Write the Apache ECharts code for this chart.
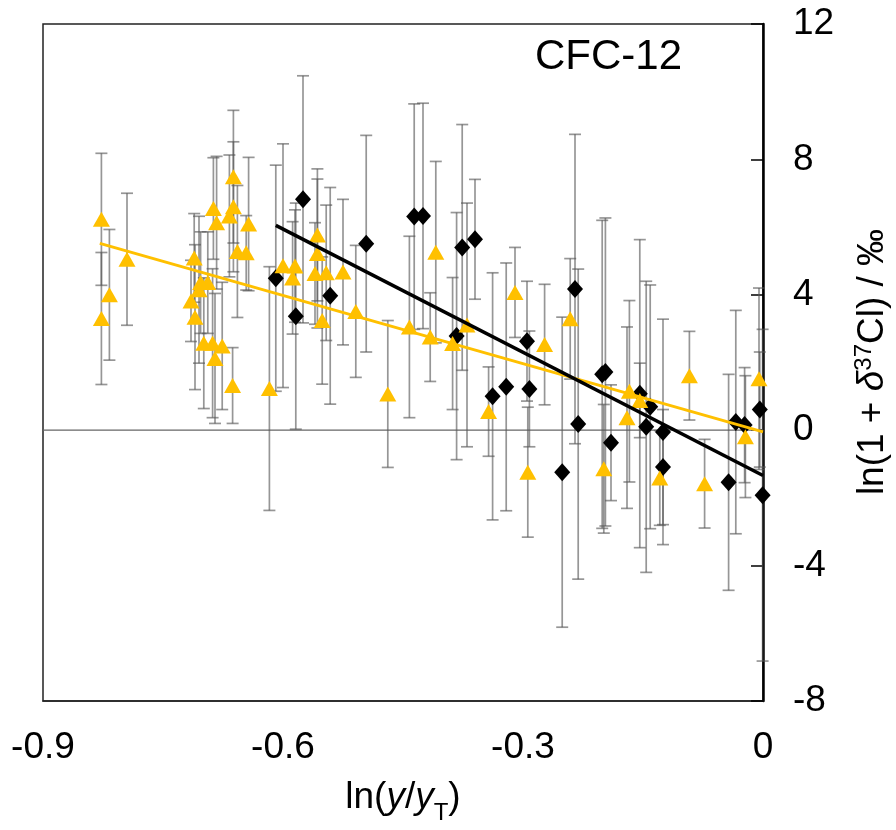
<!DOCTYPE html>
<html>
<head>
<meta charset="utf-8">
<script src="https://cdn.jsdelivr.net/npm/echarts@6/dist/echarts.min.js"></script>
<style>html,body{margin:0;padding:0;background:#fff;overflow:hidden;}#chart{position:absolute;left:0;top:0;width:896px;height:830px;}</style>
</head>
<body>
<div id="chart"></div>
<script>
// ---- data ----
const xTicks = [-0.9, -0.6, -0.3, 0];
const yTicks = [-8, -4, 0, 4, 8, 12];
const orangeX = [-0.827,-0.827,-0.817,-0.795,-0.715,-0.711,-0.710,-0.705,-0.703,-0.699,-0.694,-0.688,-0.687,-0.685,-0.683,-0.676,-0.667,-0.663,-0.662,-0.662,-0.657,-0.646,-0.643,-0.617,-0.600,-0.588,-0.585,-0.560,-0.557,-0.557,-0.551,-0.546,-0.525,-0.509,-0.469,-0.442,-0.416,-0.409,-0.388,-0.370,-0.343,-0.310,-0.294,-0.273,-0.241,-0.199,-0.170,-0.167,-0.154,-0.129,-0.092,-0.073,-0.022,-0.005];
const orangeY = [6.23,3.30,4.00,5.05,3.82,5.09,3.34,4.15,4.36,2.57,4.36,2.57,6.55,2.12,6.13,2.49,6.33,1.32,7.49,6.60,5.28,5.24,6.09,1.23,4.86,4.50,4.85,4.63,5.22,5.77,3.24,4.65,4.67,3.51,1.07,3.05,2.75,5.26,2.56,3.11,0.55,4.07,-1.24,2.53,3.29,-1.14,0.37,1.15,0.88,-1.41,1.61,-1.58,-0.19,1.52];
const orangeErr = [1.95,1.95,1.93,1.95,1.2,1.31,2.14,2.17,1.5,1.93,1.5,2.2,1.5,1.92,1.96,1.88,1.8,1.12,1.96,1.92,1.95,1.1,1.97,3.6,3.6,1.66,1.66,1.5,2.2,1.95,1.88,2.0,2.15,1.95,2.17,2.68,1.31,2.68,1.95,3.6,1.32,1.33,1.92,1.78,1.78,1.9,2.68,2.68,1.1,1.4,1.31,1.31,1.8,2.68];
const blackX = [-0.609,-0.584,-0.575,-0.541,-0.496,-0.436,-0.425,-0.383,-0.376,-0.360,-0.338,-0.321,-0.295,-0.292,-0.251,-0.235,-0.231,-0.201,-0.197,-0.190,-0.154,-0.146,-0.141,-0.125,-0.125,-0.043,-0.034,-0.023,-0.004,-0.0005];
const blackY = [4.49,3.37,6.82,3.97,5.51,6.31,6.33,2.78,5.40,5.64,1.00,1.28,2.63,1.22,-1.24,4.17,0.18,1.65,1.72,-0.37,1.08,0.10,0.69,-0.05,-1.09,-1.54,0.24,0.15,0.61,-1.92];
const blackErr = [3.34,3.34,3.65,3.2,3.2,3.33,3.33,3.65,3.63,1.77,3.65,3.66,1.77,1.71,4.58,4.57,4.58,4.55,4.55,1.71,4.55,4.3,3.6,3.33,1.7,3.19,3.3,1.7,1.7,4.9];
const blackFitX = [-0.609, 0];
const blackFitY = [6.05, -1.34];
const orangeFitX = [-0.829, 0];
const orangeFitY = [5.52, -0.05];

const FONT = 'Liberation Sans, Arial, sans-serif';
const ORANGE = '#FFC000';

function zip3(a, b, c) { return a.map((v, i) => [v, b[i], c[i]]); }
function zip2(a, b) { return a.map((v, i) => [v, b[i]]); }

function errRender(params, api) {
  const x = api.value(0), y = api.value(1), e = api.value(2);
  const top = api.coord([x, y + e]);
  const bot = api.coord([x, y - e]);
  const w = 6;
  const st = { stroke: 'rgba(85,85,85,0.62)', lineWidth: 1.7 };
  return {
    type: 'group',
    children: [
      { type: 'line', shape: { x1: top[0], y1: top[1], x2: bot[0], y2: bot[1] }, style: st },
      { type: 'line', shape: { x1: top[0] - w, y1: top[1], x2: top[0] + w, y2: top[1] }, style: st },
      { type: 'line', shape: { x1: bot[0] - w, y1: bot[1], x2: bot[0] + w, y2: bot[1] }, style: st }
    ]
  };
}

const chart = echarts.init(document.getElementById('chart'), null, { renderer: 'canvas' });
chart.setOption({
  animation: false,
  backgroundColor: '#fff',
  title: {
    text: 'CFC-12', left: 530, top: 31,
    textStyle: { fontFamily: FONT, fontSize: 42, fontWeight: 'normal', color: '#000' }
  },
  grid: { left: 43, right: 133, top: 24, bottom: 122, show: true, borderColor: '#222', borderWidth: 1.5 },
  xAxis: {
    type: 'value', min: xTicks[0], max: xTicks[xTicks.length - 1], interval: 0.3,
    axisLine: { show: true, onZero: false, lineStyle: { color: '#222', width: 1.5 } },
    axisTick: { show: false },
    splitLine: { show: false },
    axisLabel: { fontFamily: FONT, fontSize: 37, color: '#000', margin: 28,
      formatter: v => (Math.abs(v) < 1e-9 ? '0' : String(Math.round(v * 10) / 10)) },
    name: '{n|ln(}{i|y}{n|/}{i|y}{s|T}{n|)}',
    nameLocation: 'middle', nameGap: 76,
    nameTextStyle: {
      rich: {
        n: { fontFamily: FONT, fontSize: 37, color: '#000', lineHeight: 42 },
        i: { fontFamily: FONT, fontSize: 37, fontStyle: 'italic', color: '#000', lineHeight: 42 },
        s: { fontFamily: FONT, fontSize: 24, color: '#000', verticalAlign: 'bottom', lineHeight: 42, padding: [0, 0, -6, 0] }
      }
    }
  },
  yAxis: {
    type: 'value', position: 'right', min: yTicks[0], max: yTicks[yTicks.length - 1], interval: 4,
    axisLine: { show: true, onZero: false, lineStyle: { color: '#000', width: 2.5 } },
    axisTick: { show: true, inside: true, length: 12, lineStyle: { color: '#000', width: 1.5 } },
    splitLine: { show: false },
    axisLabel: { fontFamily: FONT, fontSize: 37, color: '#000', margin: 30 }
  },
  graphic: [{
    type: 'text', x: 873, y: 362, rotation: Math.PI / 2,
    style: {
      text: '{n|ln(1 + }{i|δ}{s|37}{n|Cl) / ‰}',
      align: 'center', verticalAlign: 'middle',
      rich: {
        n: { fontFamily: FONT, fontSize: 37, fill: '#000', lineHeight: 42 },
        i: { fontFamily: FONT, fontSize: 37, fontStyle: 'italic', fill: '#000', lineHeight: 42 },
        s: { fontFamily: FONT, fontSize: 24, fill: '#000', verticalAlign: 'top', lineHeight: 42 }
      }
    }
  }],
  series: [
    {
      type: 'line', data: [[xTicks[0], 0], [xTicks[xTicks.length - 1], 0]],
      symbol: 'none', lineStyle: { color: '#666', width: 1.2 }, z: 1, silent: true
    },
    { type: 'custom', renderItem: errRender, data: zip3(orangeX, orangeY, orangeErr), z: 2, silent: true },
    { type: 'custom', renderItem: errRender, data: zip3(blackX, blackY, blackErr), z: 2, silent: true },
    {
      type: 'scatter', data: zip2(blackX, blackY), symbol: 'diamond', symbolSize: [16, 18],
      itemStyle: { color: '#000', opacity: 1 }, z: 3
    },
    {
      type: 'scatter', data: zip2(orangeX, orangeY), symbol: 'triangle', symbolSize: [17, 15],
      itemStyle: { color: ORANGE, opacity: 1 }, z: 4
    },
    {
      type: 'line', data: zip2(orangeFitX, orangeFitY), symbol: 'none',
      lineStyle: { color: ORANGE, width: 3 }, z: 5
    },
    {
      type: 'line', data: zip2(blackFitX, blackFitY), symbol: 'none',
      lineStyle: { color: '#000', width: 3.5 }, z: 6
    }
  ]
});
</script>
</body>
</html>
